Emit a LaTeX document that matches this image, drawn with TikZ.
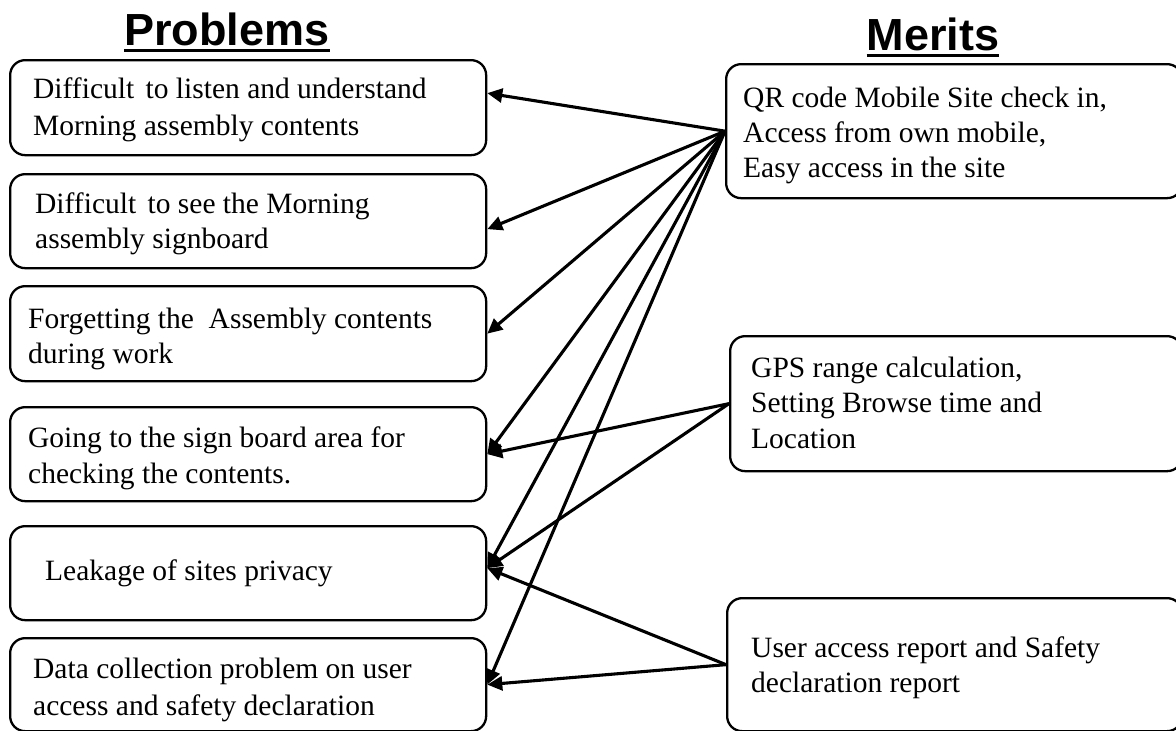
\documentclass[tikz,border=0pt]{standalone}
\usepackage{fontspec}
\setmainfont{Liberation Serif}
\newfontfamily\headfont{Liberation Sans}
\usetikzlibrary{arrows.meta}
\tikzset{
  box/.style={draw, line width=2.3pt, rounded corners=15pt, anchor=north west, inner sep=0pt},
  txt/.style={anchor=base west, inner sep=0pt},
  head/.style={anchor=base, inner sep=0pt, font=\headfont\bfseries\fontsize{45}{45}\selectfont},
  link/.style={line width=3.1pt, -{Triangle[length=15pt,width=14pt]}},
  uline/.style={line width=3pt}
}
\newcommand{\bodytext}[2]{\parbox[t]{440pt}{\fontsize{29.5}{#1}\selectfont\raggedright #2}}
\begin{document}
\begin{tikzpicture}[x=1pt,y=-1pt]
\useasboundingbox (0,0) rectangle (1176,731);
% titles
\node[head] (th1) at (227,45) {Problems};
\node[head] (th2) at (933,50) {Merits};
\draw[uline] ([yshift=-5pt]th1.base west) -- ([yshift=-5pt]th1.base east);
\draw[uline] ([yshift=-5pt]th2.base west) -- ([yshift=-5pt]th2.base east);
% problem boxes
\node[box, minimum width=476pt, minimum height=95pt] (p1) at (9,59) {};
\node[box, minimum width=476pt, minimum height=94pt] (p2) at (9,173) {};
\node[box, minimum width=476pt, minimum height=95pt] (p3) at (9,285) {};
\node[box, minimum width=476pt, minimum height=94pt] (p4) at (9,406) {};
\node[box, minimum width=476pt, minimum height=94pt] (p5) at (9,525) {};
\node[box, minimum width=476pt, minimum height=93pt] (p6) at (9,637) {};
\node[txt] (p1t) at (33,98) {\bodytext{37pt}{Difficult\hspace{4pt} to listen and understand\\Morning assembly contents}};
\node[txt] (p2t) at (35,213) {\bodytext{35pt}{Difficult\hspace{4pt} to see the Morning\\assembly signboard}};
\node[txt] (p3t) at (28,328) {\bodytext{35pt}{Forgetting the\ \ Assembly contents\\during work}};
\node[txt] (p4t) at (28,447) {\bodytext{36pt}{Going to the sign board area for\\checking the contents.}};
\node[txt] (p5t) at (45,580) {\bodytext{36pt}{Leakage of sites privacy}};
\node[txt] (p6t) at (33,678) {\bodytext{37pt}{Data collection problem on user\\access and safety declaration}};
% merit boxes
\node[box, minimum width=456pt, minimum height=134pt] (q) at (725,63) {};
\node[box, minimum width=452pt, minimum height=135pt] (g) at (729,335) {};
\node[box, minimum width=455pt, minimum height=133pt] (u) at (726,597) {};
\node[txt] (qt) at (743,107) {\bodytext{35pt}{QR code Mobile Site check in,\\Access from own mobile,\\Easy access in the site}};
\node[txt] (gt) at (751,377) {\bodytext{35.5pt}{GPS range calculation,\\Setting Browse time and\\Location}};
\node[txt] (ut) at (751,657) {\bodytext{35pt}{User access report and Safety\\declaration report}};
% connectors
\draw[link] (q.west) -- ([yshift=14.5pt]p1.east);
\draw[link] (q.west) -- ([yshift=-8pt]p2.east);
\draw[link] (q.west) -- (p3.east);
\draw[link] (q.west) -- (p4.east);
\draw[link] (q.west) -- ([yshift=5pt]p5.east);
\draw[link] (q.west) -- (p6.east);
\draw[link] (g.west) -- (p4.east);
\draw[link] (g.west) -- ([yshift=5pt]p5.east);
\draw[link] (u.west) -- ([yshift=5pt]p5.east);
\draw[link] (u.west) -- (p6.east);
\end{tikzpicture}
\end{document}
